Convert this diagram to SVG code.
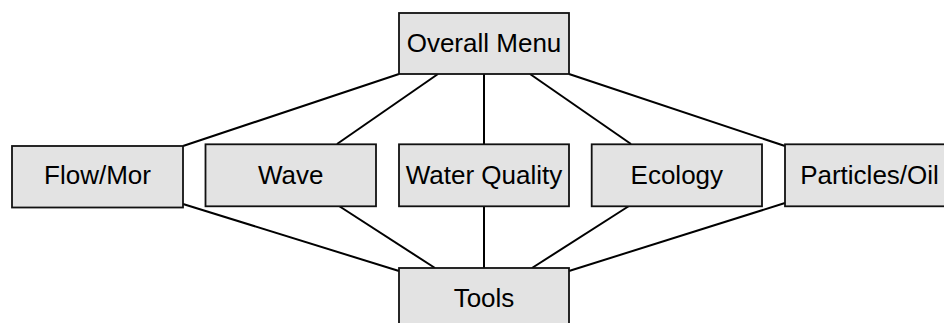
<svg xmlns="http://www.w3.org/2000/svg" width="944" height="323" viewBox="0 0 944 323">
<style>
.box{fill:#e3e3e3;stroke:#111;stroke-width:1.8}
.lbl{font-family:"Liberation Sans",Arial,sans-serif;font-size:26px;fill:#000;text-anchor:middle}
.con line{stroke:#000;stroke-width:2}
</style>
<rect width="944" height="323" fill="#fff"/>
<g id="connectors" class="con">
<line x1="399" y1="74" x2="183" y2="146"/>
<line x1="438" y1="74" x2="337" y2="144"/>
<line x1="484" y1="74" x2="484" y2="144"/>
<line x1="530" y1="74" x2="631" y2="144"/>
<line x1="569" y1="74" x2="785" y2="146"/>
<line x1="183" y1="204" x2="399" y2="271"/>
<line x1="339" y1="206" x2="435" y2="268"/>
<line x1="484" y1="206" x2="484" y2="268"/>
<line x1="629" y1="206" x2="532" y2="268"/>
<line x1="785" y1="203" x2="569" y2="271"/>
</g>
<g id="overall-menu"><rect class="box" x="399" y="13" width="170" height="61"/><text class="lbl" x="484" y="52">Overall Menu</text></g>
<g id="flow-mor"><rect class="box" x="12" y="146" width="171" height="61.5"/><text class="lbl" x="97.5" y="184">Flow/Mor</text></g>
<g id="wave"><rect class="box" x="205.5" y="144.3" width="170.5" height="62"/><text class="lbl" x="290.7" y="184">Wave</text></g>
<g id="water-quality"><rect class="box" x="399" y="144.3" width="170" height="62"/><text class="lbl" x="484" y="184">Water Quality</text></g>
<g id="ecology"><rect class="box" x="591.7" y="144.3" width="170.3" height="62"/><text class="lbl" x="676.8" y="184">Ecology</text></g>
<g id="particles-oil"><rect class="box" x="785" y="144.3" width="171" height="62"/><text class="lbl" x="869.5" y="184">Particles/Oil</text></g>
<g id="tools"><rect class="box" x="399" y="268" width="170" height="62"/><text class="lbl" x="484" y="307">Tools</text></g>
</svg>
